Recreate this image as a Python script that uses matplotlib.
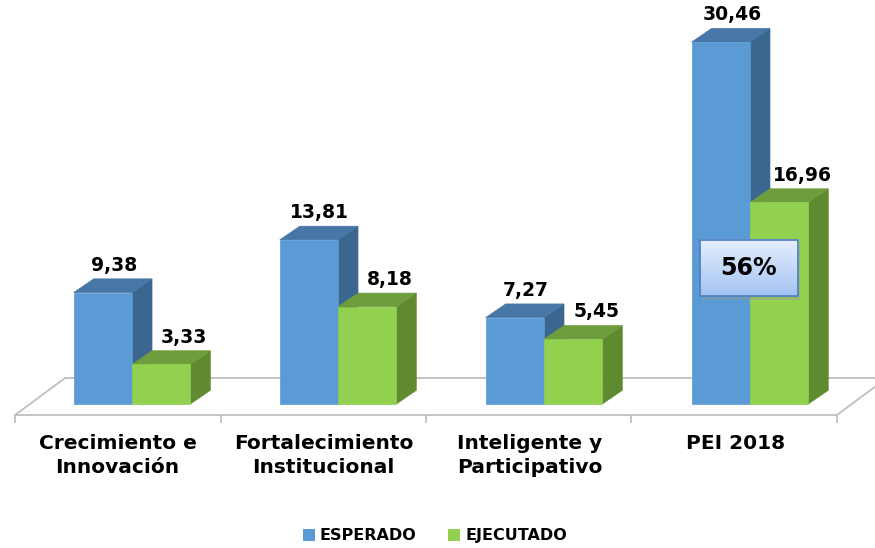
import numpy as np
import matplotlib.pyplot as plt
from matplotlib.patches import Polygon, Patch, FancyBboxPatch

categories = ["Crecimiento e\nInnovación", "Fortalecimiento\nInstitucional",
              "Inteligente y\nParticipativo", "PEI 2018"]
esperado = [9.38, 13.81, 7.27, 30.46]
ejecutado = [3.33, 8.18, 5.45, 16.96]
value_labels_esp = ["9,38", "13,81", "7,27", "30,46"]
value_labels_eje = ["3,33", "8,18", "5,45", "16,96"]
note = "56%"

BLUE = ("#5b9bd5", "#4677a6", "#3b6690")   # front, top, side
GREEN = ("#92d050", "#6f9c3c", "#5f8a30")

plt.rcParams['font.family'] = ['DejaVu Sans']

fig = plt.figure(figsize=(8.75, 5.48), dpi=100)
ax = fig.add_axes([0, 0, 1, 1])
ax.set_xlim(-0.641, 3.607)
ax.set_ylim(-12.12, 34.0)
ax.axis('off')

w = 0.283    # bar width (category units)
dx = 0.097   # depth offset x
dy = 1.15    # depth offset y (value units)

# floor
fx0, fx1 = -0.568, 3.422
fy_front, fy_back = -0.93, 2.19
fdx = 0.243
ax.plot([fx0 + fdx, fx1 + fdx + 0.2], [fy_back, fy_back], color="#bfbfbf", lw=1.3, zorder=1)
ax.plot([fx0, fx0 + fdx], [fy_front, fy_back], color="#bfbfbf", lw=1.3, zorder=1)
ax.plot([fx1, fx1 + fdx], [fy_front, fy_back], color="#bfbfbf", lw=1.3, zorder=1)
ax.plot([fx0, fx1], [fy_front, fy_front], color="#bfbfbf", lw=1.3, zorder=1)
for t in np.linspace(fx0, fx1, len(categories) + 1):
    ax.plot([t, t], [fy_front, fy_front - 0.6], color="#bfbfbf", lw=1.3, zorder=1)


def bar3d(x0, x1, v, cols, z):
    front, top, side = cols
    ax.add_patch(Polygon([(x1, 0), (x1 + dx, dy), (x1 + dx, v + dy), (x1, v)],
                         closed=True, fc=side, ec=side, lw=0.5, zorder=z))
    ax.add_patch(Polygon([(x0, v), (x1, v), (x1 + dx, v + dy), (x0 + dx, v + dy)],
                         closed=True, fc=top, ec=top, lw=0.5, zorder=z))
    ax.add_patch(Polygon([(x0, 0), (x1, 0), (x1, v), (x0, v)],
                         closed=True, fc=front, ec=front, lw=0.5, zorder=z))


for i, cat in enumerate(categories):
    bar3d(i - w, i, esperado[i], BLUE, 2 + 2 * i)
    bar3d(i, i + w, ejecutado[i], GREEN, 3 + 2 * i)
    ax.text(i - w / 2 + dx * 0.55, esperado[i] + dy + 0.35, value_labels_esp[i],
            ha='center', va='bottom', fontsize=13.5, fontweight='bold', zorder=20)
    ax.text(i + w / 2 + dx * 1.15, ejecutado[i] + dy + 0.35, value_labels_eje[i],
            ha='center', va='bottom', fontsize=13.5, fontweight='bold', zorder=20)
    ax.text(i - 0.07, -2.5, cat, ha='center', va='top', fontsize=14.5,
            fontweight='bold', linespacing=1.35)

# 56% box with gradient
bx0, bx1 = 3 - 0.243, 3 + 0.233
by0, by1 = 9.08, 13.8
grad = np.linspace(0, 1, 100).reshape(-1, 1)
cmap = plt.matplotlib.colors.LinearSegmentedColormap.from_list("g", ["#e6effc", "#a4c3f3"])
ax.add_patch(FancyBboxPatch((bx0 + 0.012, by0 - 0.3), bx1 - bx0, by1 - by0,
                            boxstyle="square,pad=0", fc="#999999", ec="none",
                            alpha=0.4, zorder=29))
ax.imshow(grad, extent=(bx0, bx1, by0, by1), cmap=cmap, aspect='auto',
          origin='upper', zorder=30)
ax.add_patch(FancyBboxPatch((bx0, by0), bx1 - bx0, by1 - by0, boxstyle="square,pad=0",
                            fc="none", ec="#4f81bd", lw=1.3, zorder=31))
ax.text((bx0 + bx1) / 2, (by0 + by1) / 2, note, ha='center', va='center',
        fontsize=17, fontweight='bold', zorder=32)
ax.set_xlim(-0.641, 3.607)
ax.set_ylim(-12.12, 34.0)

handles = [Patch(fc=BLUE[0], label="ESPERADO"), Patch(fc=GREEN[0], label="EJECUTADO")]
fig.legend(handles=handles, loc='center', bbox_to_anchor=(0.497, 0.022), ncol=2,
           frameon=False, handlelength=0.75, handleheight=0.75, handletextpad=0.3,
           columnspacing=2.0, prop={'weight': 'bold', 'size': 11.5})

fig.savefig("out.png", dpi=100)
